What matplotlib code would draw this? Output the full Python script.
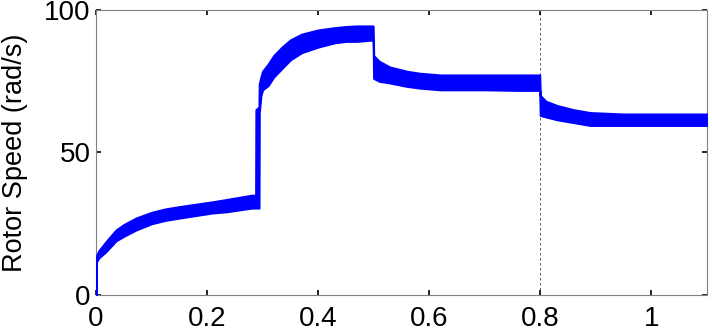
import matplotlib
matplotlib.use("Agg")
import matplotlib.pyplot as plt

plt.rcParams['font.family'] = ['Liberation Sans', 'DejaVu Sans']

# envelope of the oscillating rotor speed
t_env = [0, 0.0005, 0.005, 0.018, 0.036, 0.05, 0.072, 0.10, 0.125, 0.15,
         0.21, 0.235, 0.28, 0.2875, 0.288, 0.2935, 0.294, 0.297, 0.30,
         0.31, 0.32, 0.335, 0.35, 0.37, 0.40, 0.43, 0.45, 0.47, 0.499,
         0.5, 0.51, 0.529, 0.56, 0.583, 0.62, 0.70, 0.76, 0.799, 0.8, 0.81,
         0.83, 0.86, 0.89, 0.95, 1.0, 1.1]
speed_low = [0, 11.5, 13, 15.2, 19, 20.6, 22.8, 25, 26.2, 27,
             28.8, 29.2, 30.5, 30.5, 30.5, 30.5, 64, 70, 72,
             73.5, 76.5, 79.5, 82.5, 85, 87, 88.5, 89, 89, 89.5,
             76, 75, 74.4, 73.2, 72.6, 72, 72, 71.8, 71.8, 63, 62.5,
             61.5, 60.5, 59.5, 59.5, 59.5, 59.5]
speed_high = [0, 13.5, 15.5, 18.7, 22.8, 24.7, 27, 29, 30.2, 31,
              32.7, 33.5, 35, 35, 65, 66, 74, 76.5, 78.5,
              81, 84, 87, 89.5, 91.5, 93, 93.8, 94.2, 94.4, 94.4,
              84, 82, 80, 78.5, 77.8, 77.2, 77.2, 77.2, 77.2, 70, 68,
              66.5, 65, 64, 63.5, 63.5, 63.5]

x_ticks = [0, 0.2, 0.4, 0.6, 0.8, 1.0]
x_labels = ['0', '0.2', '0.4', '0.6', '0.8', '1']
y_ticks = [0, 50, 100]
marker_time = 0.8

fig = plt.figure(figsize=(7.12, 3.31), dpi=100)
ax = fig.add_axes([0.1348, 0.1088, 0.858, 0.861])

ax.fill_between(t_env, speed_low, speed_high, facecolor='#0000ff',
                edgecolor='#0000ff', linewidth=1.5, zorder=3)
ax.axvline(marker_time, color='#404040', linestyle=(0, (3, 3)),
           linewidth=0.6, zorder=1)

ax.set_xlim(0, 1.1)
ax.set_ylim(0, 100)
ax.set_xticks(x_ticks)
ax.set_xticklabels(x_labels)
ax.set_yticks(y_ticks)

ax.tick_params(direction='in', length=3.5, width=1.2, color='black',
               top=True, right=True, labelsize=20)
ax.tick_params(axis='x', pad=8)
ax.tick_params(axis='y', pad=4)
for s in ax.spines.values():
    s.set_color('#808080')
    s.set_linewidth(0.8)

ax.set_ylabel('Rotor Speed (rad/s)', fontsize=19.5)
ax.yaxis.set_label_coords(-0.111, 0.5)

fig.savefig('out.png', dpi=100)
